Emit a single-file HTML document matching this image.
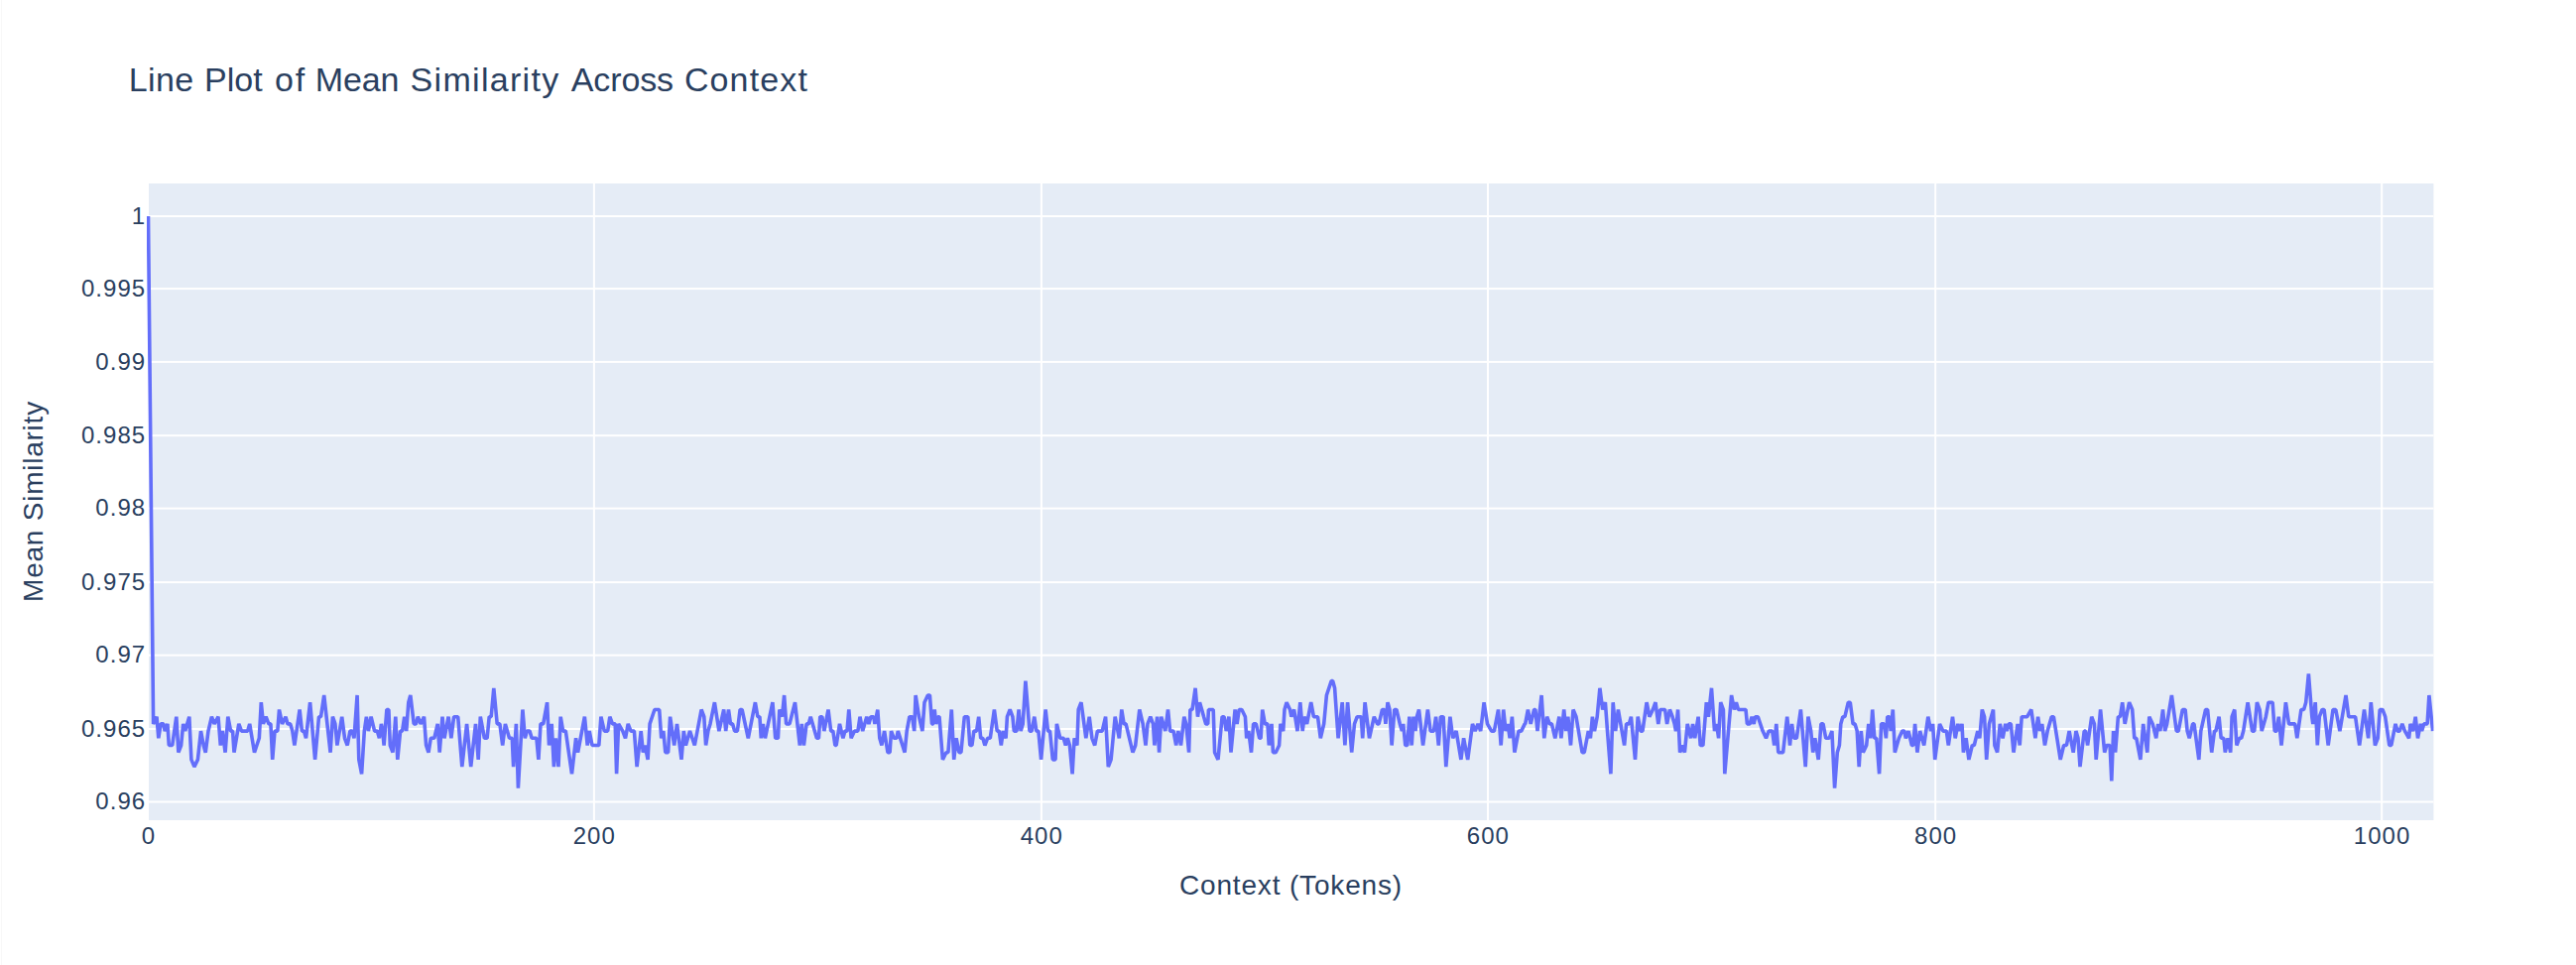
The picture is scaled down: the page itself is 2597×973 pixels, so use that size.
<!DOCTYPE html>
<html><head><meta charset="utf-8"><title>Line Plot of Mean Similarity Across Context</title>
<style>html,body{margin:0;padding:0;background:#fff;overflow:hidden;width:2597px;height:973px}svg{display:block}</style>
</head><body>
<svg width="2597" height="973" viewBox="0 0 2597 973">
<defs><clipPath id="c"><rect x="148" y="185" width="2305.4" height="642"/></clipPath></defs>
<rect x="0" y="0" width="2597" height="973" fill="#fff"/>
<rect x="1" y="0" width="1" height="973" fill="#f8f8f8"/>
<text y="91.6" style='font-family:"Liberation Sans",sans-serif;font-size:34px;fill:#2a3f5f'><tspan x="129.7" style="letter-spacing:0.37px">Line</tspan><tspan x="206.0" style="letter-spacing:0.0px">Plot</tspan><tspan x="277.0" style="letter-spacing:1.9px">of</tspan><tspan x="317.7" style="letter-spacing:-0.1px">Mean</tspan><tspan x="413.6" style="letter-spacing:1.3px">Similarity</tspan><tspan x="575.7" style="letter-spacing:-0.1px">Across</tspan><tspan x="689.9" style="letter-spacing:1.13px">Context</tspan></text>
<rect x="150" y="185" width="2303.4" height="642" fill="#e5ecf6"/>
<rect x="150" y="217.00" width="2303.4" height="2" fill="#fff"/>
<rect x="150" y="290.10" width="2303.4" height="2" fill="#fff"/>
<rect x="150" y="363.90" width="2303.4" height="2" fill="#fff"/>
<rect x="150" y="438.20" width="2303.4" height="2" fill="#fff"/>
<rect x="150" y="511.60" width="2303.4" height="2" fill="#fff"/>
<rect x="150" y="586.10" width="2303.4" height="2" fill="#fff"/>
<rect x="150" y="659.70" width="2303.4" height="2" fill="#fff"/>
<rect x="150" y="734.00" width="2303.4" height="2" fill="#fff"/>
<rect x="150" y="807.50" width="2303.4" height="2" fill="#fff"/>
<rect x="597.90" y="185" width="2" height="642" fill="#fff"/>
<rect x="1048.90" y="185" width="2" height="642" fill="#fff"/>
<rect x="1499.00" y="185" width="2" height="642" fill="#fff"/>
<rect x="1950.20" y="185" width="2" height="642" fill="#fff"/>
<rect x="2400.20" y="185" width="2" height="642" fill="#fff"/>
<path d="M149.5,218.1 L154.6,729.9 L158.0,722.7 L159.8,744.3 L162.1,729.9 L164.8,729.9 L166.2,737.1 L168.9,729.9 L170.3,751.5 L173.7,751.5 L177.8,722.7 L179.9,758.7 L182.6,751.5 L184.7,729.9 L186.7,737.1 L190.8,722.7 L192.9,765.9 L195.9,773.1 L199.4,765.9 L202.5,737.1 L205.2,751.5 L207.2,758.7 L210.0,737.1 L213.4,722.7 L216.1,729.9 L220.0,722.7 L222.3,751.5 L224.3,737.1 L227.1,758.7 L229.8,722.7 L232.6,737.1 L234.6,737.1 L236.0,758.7 L240.8,729.9 L243.5,737.1 L249.7,737.1 L251.7,729.9 L256.5,758.7 L261.3,744.3 L263.3,708.2 L265.4,729.9 L268.1,722.7 L270.9,729.9 L272.9,729.9 L274.7,765.9 L277.0,737.1 L279.8,737.1 L281.5,715.5 L284.5,729.9 L288.0,722.7 L290.0,729.9 L292.7,729.9 L294.8,737.1 L296.9,751.5 L302.1,715.5 L304.4,737.1 L306.4,737.1 L308.5,744.3 L312.6,708.2 L317.6,765.9 L321.5,722.7 L323.5,722.7 L326.7,701.0 L333.1,758.7 L335.4,722.7 L337.9,729.9 L339.9,751.5 L344.7,722.7 L347.5,744.3 L350.2,751.5 L352.9,737.1 L355.0,737.1 L357.0,744.3 L360.1,701.0 L361.8,765.9 L364.6,780.3 L367.3,737.1 L369.4,722.7 L371.4,737.1 L374.1,722.7 L377.6,737.1 L380.3,737.1 L382.4,744.3 L384.4,729.9 L385.8,737.1 L387.1,751.5 L389.9,715.5 L391.9,715.5 L393.3,751.5 L396.0,758.7 L398.8,722.7 L400.8,765.9 L403.6,737.1 L405.6,737.1 L407.7,722.7 L409.7,737.1 L411.8,708.2 L413.8,701.0 L417.2,729.9 L419.3,729.9 L421.3,722.7 L424.1,729.9 L427.5,722.7 L429.6,751.5 L432.0,758.7 L434.3,744.3 L437.8,744.3 L441.2,729.9 L443.2,758.7 L446.0,722.7 L448.0,744.3 L452.1,722.7 L454.9,744.3 L457.6,722.7 L461.7,722.7 L465.8,773.1 L470.6,729.9 L474.7,773.1 L479.5,729.9 L482.2,765.9 L484.3,722.7 L488.4,744.3 L491.1,744.3 L493.2,722.7 L495.2,722.7 L497.8,693.8 L501.2,729.9 L503.9,729.9 L506.7,751.5 L509.4,729.9 L513.5,744.3 L516.3,744.3 L517.6,773.1 L520.4,729.9 L522.4,794.7 L526.9,715.5 L529.3,744.3 L531.3,737.1 L534.0,737.1 L536.1,744.3 L540.9,744.3 L542.9,765.9 L545.0,729.9 L547.7,729.9 L551.6,708.2 L553.5,751.5 L556.2,729.9 L558.4,773.1 L560.3,744.3 L563.0,773.1 L565.2,722.7 L567.6,737.1 L570.3,737.1 L576.5,780.3 L580.6,744.3 L582.6,758.7 L589.4,722.7 L592.2,751.5 L594.2,737.1 L597.0,751.5 L603.8,751.5 L605.9,722.7 L609.3,737.1 L612.7,737.1 L614.8,722.7 L617.5,729.9 L620.2,729.9 L621.6,780.3 L623.6,729.9 L627.8,737.1 L630.5,744.3 L633.2,729.9 L636.0,737.1 L639.4,737.1 L642.1,773.1 L646.2,737.1 L648.3,758.7 L650.3,751.5 L653.1,765.9 L655.1,729.9 L659.9,715.5 L664.7,715.5 L666.7,744.3 L668.8,737.1 L670.8,758.7 L673.6,758.7 L675.6,722.7 L679.7,751.5 L682.5,729.9 L687.0,765.9 L689.3,737.1 L691.4,751.5 L695.5,737.1 L700.3,751.5 L707.1,715.5 L709.8,722.7 L711.6,751.5 L713.9,737.1 L716.0,729.9 L720.4,708.2 L724.9,737.1 L729.7,715.5 L731.7,737.1 L734.5,715.5 L736.5,729.9 L738.6,729.9 L740.6,737.1 L743.4,737.1 L746.1,715.5 L748.1,715.5 L754.3,744.3 L761.4,708.2 L763.9,722.7 L765.9,722.7 L767.3,744.3 L769.3,729.9 L771.4,744.3 L778.9,708.2 L781.7,744.3 L784.4,744.3 L785.8,715.5 L788.5,722.7 L790.6,701.0 L792.6,729.9 L796.0,729.9 L801.5,708.2 L806.3,751.5 L808.3,729.9 L810.4,751.5 L813.1,729.9 L815.2,729.9 L817.2,722.7 L823.4,744.3 L825.4,744.3 L826.8,722.7 L828.9,722.7 L830.9,737.1 L835.0,715.5 L837.7,737.1 L839.8,737.1 L841.9,751.5 L843.1,751.5 L846.5,729.9 L849.9,744.3 L851.9,737.1 L854.0,737.1 L855.8,715.5 L858.1,744.3 L861.5,737.1 L864.9,737.1 L867.0,722.7 L869.7,737.1 L873.8,722.7 L875.9,729.9 L877.9,722.7 L880.7,722.7 L882.0,729.9 L884.8,715.5 L886.8,744.3 L888.9,751.5 L891.6,737.1 L895.0,758.7 L897.1,758.7 L898.5,737.1 L901.2,744.3 L903.9,744.3 L905.3,737.1 L912.1,758.7 L914.2,737.1 L916.9,722.7 L919.7,722.7 L921.7,737.1 L923.1,701.0 L926.5,722.7 L929.9,737.1 L932.0,708.2 L935.4,701.0 L937.4,701.0 L939.5,729.9 L940.9,729.9 L942.2,715.5 L943.6,729.9 L945.7,722.7 L947.0,722.7 L950.4,765.9 L953.9,758.7 L955.9,758.7 L959.3,715.5 L961.7,765.9 L964.1,744.3 L966.9,758.7 L968.9,758.7 L972.3,722.7 L975.8,722.7 L977.8,751.5 L979.9,751.5 L981.9,737.1 L984.6,737.1 L986.7,722.7 L988.7,744.3 L990.8,744.3 L992.9,751.5 L995.6,744.3 L998.3,744.3 L1002.4,715.5 L1005.2,737.1 L1007.2,737.1 L1009.3,751.5 L1011.3,737.1 L1014.1,744.3 L1015.4,722.7 L1018.2,715.5 L1020.9,722.7 L1022.3,737.1 L1025.0,737.1 L1027.1,715.5 L1029.1,737.1 L1031.2,729.9 L1033.9,686.6 L1038.0,737.1 L1040.1,737.1 L1042.8,722.7 L1044.8,737.1 L1046.9,737.1 L1049.6,765.9 L1054.1,715.5 L1056.5,737.1 L1058.5,737.1 L1061.3,765.9 L1064.0,765.9 L1065.4,729.9 L1068.8,744.3 L1072.2,744.3 L1074.3,751.5 L1076.3,744.3 L1078.4,751.5 L1081.1,780.3 L1083.1,744.3 L1085.9,751.5 L1087.2,715.5 L1090.0,708.2 L1094.8,744.3 L1098.2,722.7 L1100.9,744.3 L1103.7,751.5 L1106.4,737.1 L1109.1,737.1 L1111.2,737.1 L1114.6,722.7 L1117.3,773.1 L1120.1,765.9 L1124.2,722.7 L1128.3,744.3 L1130.8,715.5 L1133.1,729.9 L1135.1,729.9 L1142.0,758.7 L1144.7,751.5 L1148.8,715.5 L1152.2,729.9 L1155.0,751.5 L1157.0,729.9 L1159.8,722.7 L1162.5,729.9 L1163.9,751.5 L1166.6,722.7 L1168.6,758.7 L1170.7,722.7 L1172.8,729.9 L1174.8,737.1 L1177.5,715.5 L1179.6,737.1 L1183.0,737.1 L1185.7,751.5 L1187.8,737.1 L1190.5,751.5 L1193.8,722.7 L1195.8,729.9 L1198.6,758.7 L1199.9,715.5 L1202.0,715.5 L1205.1,693.8 L1207.5,722.7 L1209.5,708.2 L1211.6,715.5 L1213.6,722.7 L1215.7,729.9 L1217.7,729.9 L1218.4,715.5 L1223.2,715.5 L1224.6,758.7 L1228.0,765.9 L1232.1,722.7 L1234.1,722.7 L1236.2,737.1 L1238.9,722.7 L1241.0,758.7 L1245.1,715.5 L1247.1,729.9 L1249.2,715.5 L1251.9,715.5 L1255.4,722.7 L1256.7,744.3 L1258.8,737.1 L1261.5,758.7 L1263.6,729.9 L1266.3,729.9 L1269.7,744.3 L1271.1,744.3 L1272.7,715.5 L1275.2,729.9 L1277.9,729.9 L1279.3,751.5 L1282.0,729.9 L1283.4,758.7 L1286.1,758.7 L1289.6,751.5 L1290.9,729.9 L1293.7,737.1 L1295.0,715.5 L1297.1,708.2 L1300.5,715.5 L1301.9,722.7 L1304.6,715.5 L1308.0,737.1 L1310.8,708.2 L1313.2,737.1 L1314.9,722.7 L1317.6,729.9 L1321.7,708.2 L1324.4,722.7 L1328.5,722.7 L1331.3,744.3 L1334.7,729.9 L1337.4,701.0 L1342.2,686.6 L1343.6,686.6 L1345.6,693.8 L1349.1,744.3 L1353.2,708.2 L1355.9,751.5 L1358.6,708.2 L1362.7,758.7 L1365.5,729.9 L1368.2,722.7 L1372.3,722.7 L1373.7,744.3 L1376.1,708.2 L1380.5,744.3 L1385.3,722.7 L1388.7,729.9 L1390.1,729.9 L1393.5,715.5 L1395.6,715.5 L1396.9,729.9 L1399.0,708.2 L1401.0,715.5 L1403.1,751.5 L1405.8,715.5 L1407.9,715.5 L1411.3,729.9 L1413.4,737.1 L1414.7,729.9 L1416.8,751.5 L1418.8,751.5 L1420.9,722.7 L1423.2,751.5 L1425.0,722.7 L1427.0,737.1 L1428.4,722.7 L1430.5,715.5 L1434.6,751.5 L1439.4,715.5 L1442.1,737.1 L1445.5,737.1 L1447.6,722.7 L1450.3,751.5 L1452.4,722.7 L1455.1,722.7 L1457.8,773.1 L1461.9,722.7 L1464.7,744.3 L1468.1,737.1 L1472.9,765.9 L1475.6,744.3 L1479.7,765.9 L1484.5,729.9 L1487.2,737.1 L1490.0,729.9 L1492.7,737.1 L1496.1,708.2 L1499.5,729.9 L1503.7,737.1 L1506.4,737.1 L1510.5,715.5 L1513.2,751.5 L1515.7,715.5 L1518.0,737.1 L1520.1,729.9 L1522.1,744.3 L1524.4,722.7 L1526.9,758.7 L1531.0,737.1 L1533.7,737.1 L1537.2,729.9 L1537.7,729.9 L1540.4,715.5 L1543.2,729.9 L1546.6,715.5 L1547.9,715.5 L1550.0,737.1 L1554.1,701.0 L1556.8,744.3 L1559.6,722.7 L1562.3,729.9 L1564.4,729.9 L1567.8,744.3 L1571.9,722.7 L1573.9,744.3 L1576.7,715.5 L1578.7,737.1 L1580.8,722.7 L1583.5,751.5 L1586.0,715.5 L1589.0,722.7 L1595.1,758.7 L1597.2,758.7 L1601.3,737.1 L1603.4,744.3 L1605.4,722.7 L1607.5,737.1 L1610.2,722.7 L1612.9,693.8 L1615.7,715.5 L1618.4,708.2 L1620.5,737.1 L1623.9,780.3 L1626.2,708.2 L1628.7,737.1 L1631.4,715.5 L1637.6,751.5 L1639.6,729.9 L1642.3,729.9 L1644.4,722.7 L1648.5,765.9 L1651.2,722.7 L1654.0,737.1 L1656.0,737.1 L1660.1,708.2 L1662.9,722.7 L1666.3,715.5 L1669.0,708.2 L1671.8,729.9 L1673.8,715.5 L1678.6,715.5 L1680.6,729.9 L1683.4,715.5 L1686.1,722.7 L1688.2,729.9 L1689.5,737.1 L1691.6,715.5 L1693.6,758.7 L1696.4,751.5 L1698.4,758.7 L1701.2,729.9 L1704.6,744.3 L1706.6,729.9 L1708.7,744.3 L1712.1,722.7 L1714.2,751.5 L1716.9,751.5 L1720.3,708.2 L1722.4,722.7 L1725.5,693.8 L1728.5,737.1 L1730.6,729.9 L1732.6,744.3 L1734.7,708.2 L1737.4,715.5 L1738.8,780.3 L1745.6,701.0 L1748.4,715.5 L1750.4,708.2 L1752.5,715.5 L1760.0,715.5 L1761.4,729.9 L1764.1,729.9 L1766.1,722.7 L1768.2,729.9 L1769.6,722.7 L1772.3,722.7 L1777.1,737.1 L1780.5,744.3 L1783.2,737.1 L1786.7,737.1 L1788.7,751.5 L1790.8,729.9 L1792.8,758.7 L1797.6,758.7 L1801.7,722.7 L1804.5,751.5 L1806.5,729.9 L1808.6,744.3 L1811.3,744.3 L1815.4,715.5 L1820.2,773.1 L1822.9,722.7 L1825.7,737.1 L1827.7,758.7 L1829.8,744.3 L1833.2,765.9 L1835.9,729.9 L1838.0,729.9 L1840.7,744.3 L1844.1,744.3 L1846.9,737.1 L1849.6,794.7 L1852.3,758.7 L1854.4,751.5 L1855.8,729.9 L1857.8,722.7 L1859.9,722.7 L1863.3,708.2 L1865.3,708.2 L1868.1,729.9 L1870.1,729.9 L1872.2,737.1 L1874.2,773.1 L1876.3,737.1 L1878.3,758.7 L1881.7,751.5 L1883.8,729.9 L1885.9,744.3 L1887.7,715.5 L1889.8,744.3 L1891.8,744.3 L1894.6,780.3 L1896.6,729.9 L1899.4,729.9 L1901.4,744.3 L1902.8,722.7 L1904.8,722.7 L1906.2,737.1 L1908.3,715.5 L1910.3,758.7 L1914.4,744.3 L1917.8,737.1 L1919.9,737.1 L1921.3,744.3 L1924.0,737.1 L1927.4,751.5 L1928.8,751.5 L1930.6,729.9 L1932.9,758.7 L1935.6,737.1 L1939.7,751.5 L1943.8,722.7 L1946.6,737.1 L1948.6,729.9 L1950.7,765.9 L1955.5,729.9 L1958.9,737.1 L1962.3,737.1 L1964.3,751.5 L1968.5,722.7 L1971.2,744.3 L1973.9,729.9 L1976.0,737.1 L1978.0,729.9 L1979.4,758.7 L1982.1,744.3 L1984.9,765.9 L1988.3,751.5 L1990.3,751.5 L1993.8,737.1 L1995.8,744.3 L1998.3,715.5 L2000.6,722.7 L2002.7,765.9 L2005.4,729.9 L2009.5,715.5 L2010.9,751.5 L2013.6,758.7 L2016.3,729.9 L2019.1,744.3 L2021.8,729.9 L2023.2,737.1 L2025.2,729.9 L2027.3,729.9 L2030.0,758.7 L2034.1,729.9 L2036.2,751.5 L2038.2,722.7 L2043.7,722.7 L2047.8,715.5 L2051.9,744.3 L2054.6,722.7 L2056.7,737.1 L2058.7,729.9 L2061.5,751.5 L2064.2,737.1 L2068.3,722.7 L2070.4,722.7 L2073.8,744.3 L2077.2,765.9 L2080.6,751.5 L2083.4,751.5 L2086.1,737.1 L2090.2,758.7 L2092.9,737.1 L2095.0,744.3 L2097.0,773.1 L2101.2,737.1 L2102.5,737.1 L2104.6,751.5 L2108.7,722.7 L2111.4,729.9 L2113.2,765.9 L2117.6,715.5 L2121.7,758.7 L2123.7,751.5 L2127.1,751.5 L2128.8,787.5 L2130.6,737.1 L2132.6,758.7 L2135.4,722.7 L2137.4,722.7 L2139.7,708.2 L2142.2,729.9 L2146.6,708.2 L2149.7,715.5 L2151.8,744.3 L2153.8,744.3 L2157.9,765.9 L2160.7,729.9 L2164.8,758.7 L2166.8,722.7 L2170.2,729.9 L2173.7,744.3 L2175.7,729.9 L2177.8,737.1 L2180.5,715.5 L2182.6,737.1 L2184.6,729.9 L2189.4,701.0 L2194.2,737.1 L2196.2,737.1 L2200.3,715.5 L2203.1,715.5 L2205.1,737.1 L2207.2,744.3 L2210.6,729.9 L2212.0,729.9 L2216.8,765.9 L2218.8,737.1 L2223.6,715.5 L2225.6,715.5 L2229.7,758.7 L2232.5,737.1 L2233.9,737.1 L2237.1,722.7 L2239.2,744.3 L2241.9,744.3 L2243.3,758.7 L2246.0,744.3 L2248.7,758.7 L2250.1,722.7 L2252.8,715.5 L2254.9,751.5 L2257.6,744.3 L2259.7,744.3 L2261.7,737.1 L2266.1,708.2 L2270.6,737.1 L2272.7,737.1 L2275.4,708.2 L2278.1,715.5 L2280.2,737.1 L2284.3,722.7 L2287.0,708.2 L2291.1,708.2 L2293.2,737.1 L2295.2,737.1 L2297.3,722.7 L2300.0,751.5 L2304.4,708.2 L2307.6,729.9 L2313.7,729.9 L2315.8,744.3 L2319.9,715.5 L2322.6,715.5 L2324.7,708.2 L2327.4,679.4 L2330.8,722.7 L2331.8,729.9 L2334.2,708.2 L2336.3,751.5 L2338.3,722.7 L2341.1,715.5 L2343.1,715.5 L2347.2,751.5 L2352.0,715.5 L2354.8,715.5 L2358.9,737.1 L2365.0,701.0 L2367.8,722.7 L2374.6,722.7 L2378.7,751.5 L2383.5,715.5 L2387.6,744.3 L2390.3,708.2 L2394.4,751.5 L2397.2,744.3 L2399.2,715.5 L2402.0,715.5 L2404.7,722.7 L2408.8,751.5 L2410.8,751.5 L2415.0,729.9 L2417.0,737.1 L2419.1,737.1 L2421.8,729.9 L2424.5,737.1 L2428.6,744.3 L2430.0,729.9 L2432.7,737.1 L2435.2,722.7 L2437.5,744.3 L2440.3,729.9 L2441.6,737.1 L2443.7,729.9 L2447.1,729.9 L2448.9,701.0 L2452.6,737.1" fill="none" stroke="#636efa" stroke-width="3.6" stroke-linejoin="bevel" stroke-linecap="butt" clip-path="url(#c)"/>
<text x="147.25" y="225.70" text-anchor="end" style="font-family:'Liberation Sans',sans-serif;font-size:24px;fill:#2a3f5f;letter-spacing:1.05px">1</text>
<text x="147.25" y="298.80" text-anchor="end" style="font-family:'Liberation Sans',sans-serif;font-size:24px;fill:#2a3f5f;letter-spacing:1.05px">0.995</text>
<text x="147.25" y="372.60" text-anchor="end" style="font-family:'Liberation Sans',sans-serif;font-size:24px;fill:#2a3f5f;letter-spacing:1.05px">0.99</text>
<text x="147.25" y="446.90" text-anchor="end" style="font-family:'Liberation Sans',sans-serif;font-size:24px;fill:#2a3f5f;letter-spacing:1.05px">0.985</text>
<text x="147.25" y="520.30" text-anchor="end" style="font-family:'Liberation Sans',sans-serif;font-size:24px;fill:#2a3f5f;letter-spacing:1.05px">0.98</text>
<text x="147.25" y="594.80" text-anchor="end" style="font-family:'Liberation Sans',sans-serif;font-size:24px;fill:#2a3f5f;letter-spacing:1.05px">0.975</text>
<text x="147.25" y="668.40" text-anchor="end" style="font-family:'Liberation Sans',sans-serif;font-size:24px;fill:#2a3f5f;letter-spacing:1.05px">0.97</text>
<text x="147.25" y="742.70" text-anchor="end" style="font-family:'Liberation Sans',sans-serif;font-size:24px;fill:#2a3f5f;letter-spacing:1.05px">0.965</text>
<text x="147.25" y="816.20" text-anchor="end" style="font-family:'Liberation Sans',sans-serif;font-size:24px;fill:#2a3f5f;letter-spacing:1.05px">0.96</text>
<text x="149.90" y="851.3" text-anchor="middle" style="font-family:'Liberation Sans',sans-serif;font-size:24px;fill:#2a3f5f;letter-spacing:1.05px">0</text>
<text x="599.30" y="851.3" text-anchor="middle" style="font-family:'Liberation Sans',sans-serif;font-size:24px;fill:#2a3f5f;letter-spacing:1.05px">200</text>
<text x="1050.30" y="851.3" text-anchor="middle" style="font-family:'Liberation Sans',sans-serif;font-size:24px;fill:#2a3f5f;letter-spacing:1.05px">400</text>
<text x="1500.40" y="851.3" text-anchor="middle" style="font-family:'Liberation Sans',sans-serif;font-size:24px;fill:#2a3f5f;letter-spacing:1.05px">600</text>
<text x="1951.60" y="851.3" text-anchor="middle" style="font-family:'Liberation Sans',sans-serif;font-size:24px;fill:#2a3f5f;letter-spacing:1.05px">800</text>
<text x="2401.60" y="851.3" text-anchor="middle" style="font-family:'Liberation Sans',sans-serif;font-size:24px;fill:#2a3f5f;letter-spacing:1.05px">1000</text>
<text x="1301.5" y="902.2" text-anchor="middle" style='font-family:"Liberation Sans",sans-serif;font-size:28px;fill:#2a3f5f;letter-spacing:0.84px'>Context (Tokens)</text>
<text transform="translate(43.0,505.5) rotate(-90)" x="0" y="0" text-anchor="middle" style='font-family:"Liberation Sans",sans-serif;font-size:28px;fill:#2a3f5f;letter-spacing:0.76px'>Mean Similarity</text>
</svg>
</body></html>
